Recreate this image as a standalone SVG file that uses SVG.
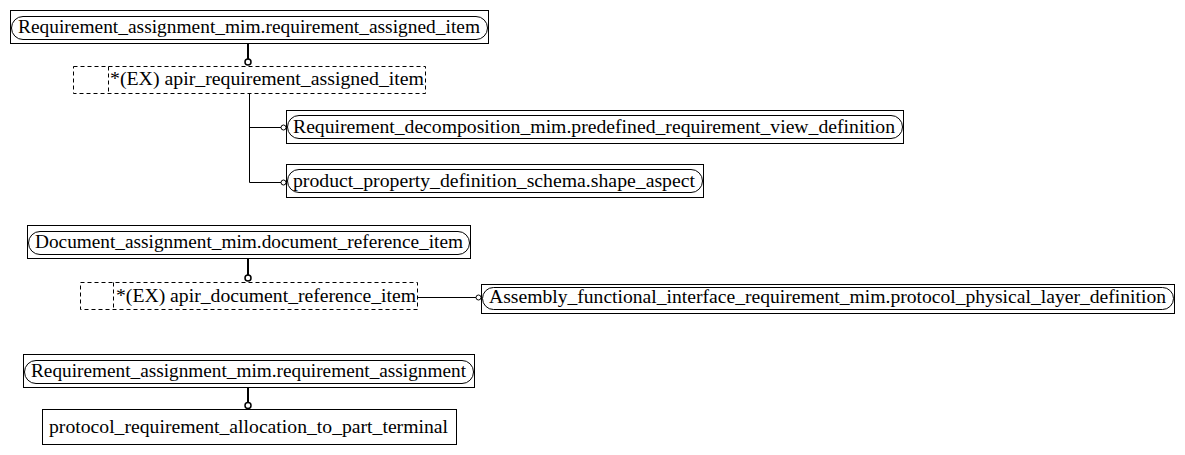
<svg xmlns="http://www.w3.org/2000/svg" width="1185" height="455" viewBox="0 0 1185 455">
<style>
.box{fill:#fff;stroke:#000;stroke-width:1}
.rnd{fill:none;stroke:#000;stroke-width:1}
.dash{fill:#fff;stroke:#000;stroke-width:1;stroke-dasharray:4,3}
.t{font-family:"Liberation Serif","Times New Roman",serif;font-size:18.5px;fill:#000}
.thick{stroke:#000;stroke-width:2;fill:none}
.thin{stroke:#000;stroke-width:1;fill:none}
.c{fill:#fff;stroke:#000;stroke-width:1.5}
.cs{fill:#fff;stroke:#000;stroke-width:1}
</style>
<g id="n1">
<rect class="box" x="10.5" y="10.5" width="478" height="33"/>
<rect class="rnd" x="11.5" y="16.5" width="476" height="23" rx="11.5"/>
<text class="t" x="18" y="33" textLength="462" lengthAdjust="spacingAndGlyphs">Requirement_assignment_mim.requirement_assigned_item</text>
</g>
<g id="n2">
<rect class="dash" x="73.5" y="66.5" width="352" height="27"/>
<line class="dash" x1="108.5" y1="66.5" x2="108.5" y2="93.5"/>
<text class="t" x="110" y="85" textLength="314" lengthAdjust="spacingAndGlyphs">*(EX) apir_requirement_assigned_item</text>
</g>
<g id="n3">
<rect class="box" x="286.5" y="110.5" width="617" height="33"/>
<rect class="rnd" x="287.5" y="115.5" width="615" height="23" rx="11.5"/>
<text class="t" x="293" y="133" textLength="602" lengthAdjust="spacingAndGlyphs">Requirement_decomposition_mim.predefined_requirement_view_definition</text>
</g>
<g id="n4">
<rect class="box" x="286.5" y="164.5" width="417" height="33"/>
<rect class="rnd" x="287.5" y="169.5" width="415" height="23" rx="11.5"/>
<text class="t" x="293" y="187" textLength="402" lengthAdjust="spacingAndGlyphs">product_property_definition_schema.shape_aspect</text>
</g>
<g id="n5">
<rect class="box" x="27.5" y="225.5" width="443" height="33"/>
<rect class="rnd" x="28.5" y="231.5" width="441" height="23" rx="11.5"/>
<text class="t" x="35" y="248" textLength="428" lengthAdjust="spacingAndGlyphs">Document_assignment_mim.document_reference_item</text>
</g>
<g id="n6">
<rect class="dash" x="80.5" y="282.5" width="337" height="27"/>
<line class="dash" x1="113.5" y1="282.5" x2="113.5" y2="309.5"/>
<text class="t" x="116" y="302" textLength="300" lengthAdjust="spacingAndGlyphs">*(EX) apir_document_reference_item</text>
</g>
<g id="n7">
<rect class="box" x="481.5" y="284.5" width="693" height="29"/>
<rect class="rnd" x="482.5" y="287.5" width="691" height="22" rx="11"/>
<text class="t" x="489" y="303" textLength="677" lengthAdjust="spacingAndGlyphs">Assembly_functional_interface_requirement_mim.protocol_physical_layer_definition</text>
</g>
<g id="n8">
<rect class="box" x="23.5" y="354.5" width="451" height="33"/>
<rect class="rnd" x="24.5" y="360.5" width="449" height="23" rx="11.5"/>
<text class="t" x="31" y="377" textLength="435" lengthAdjust="spacingAndGlyphs">Requirement_assignment_mim.requirement_assignment</text>
</g>
<g id="n9">
<rect class="box" x="42.5" y="409.5" width="414" height="35"/>
<text class="t" x="49" y="433" textLength="399" lengthAdjust="spacingAndGlyphs">protocol_requirement_allocation_to_part_terminal</text>
</g>
<g id="connectors">
<line class="thick" x1="248" y1="44" x2="248" y2="59"/>
<circle class="c" cx="248" cy="62" r="3"/>
<polyline class="thin" points="249.5,94 249.5,182.5 281,182.5"/>
<line class="thin" x1="249.5" y1="127.5" x2="281" y2="127.5"/>
<circle class="cs" cx="283.5" cy="127.5" r="2.5"/>
<circle class="cs" cx="283.5" cy="182.5" r="2.5"/>
<line class="thick" x1="248" y1="259" x2="248" y2="275"/>
<circle class="c" cx="248" cy="278" r="3"/>
<line class="thin" x1="418" y1="297.5" x2="476" y2="297.5"/>
<circle class="cs" cx="478.5" cy="297.5" r="2.5"/>
<line class="thick" x1="248" y1="388" x2="248" y2="402"/>
<circle class="c" cx="248" cy="405.5" r="3"/>
</g>
</svg>
